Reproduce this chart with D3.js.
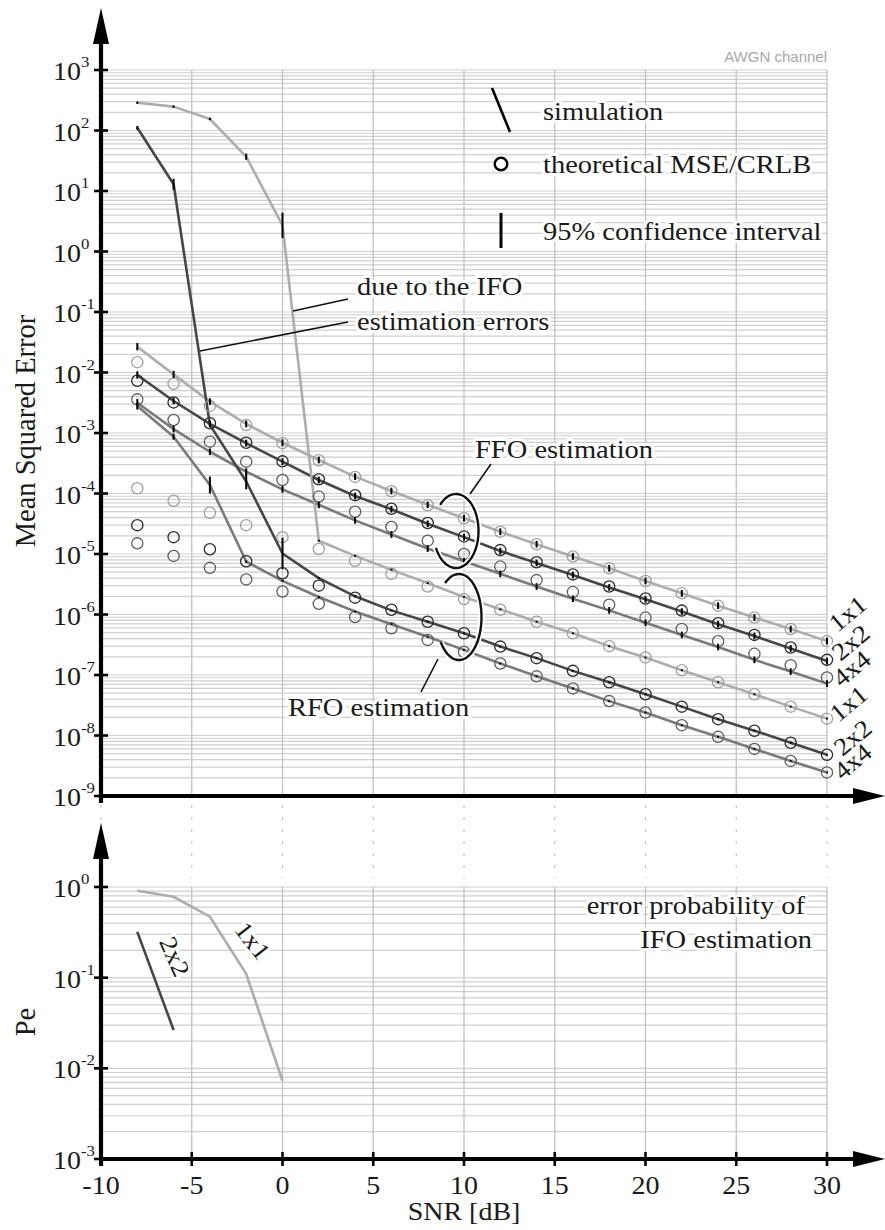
<!DOCTYPE html>
<meta charset="utf-8">
<head>
    <script type="text/javascript" src="https://cdn.jsdelivr.net/npm/d3@7/dist/d3.min.js"></script>
    <style>
        body { margin: 0; background: #fff; }
        text { font-family: "Liberation Serif", "Times New Roman", serif; fill: #1a1a1a; }
        .halo { paint-order: stroke; stroke: #fff; stroke-width: 6px; stroke-linejoin: round; }
    </style>
</head>
<body>
    <svg width=885 height=1230></svg>
</body>
<script>
    let snr = [-8, -6, -4, -2, 0, 2, 4, 6, 8, 10, 12, 14, 16, 18, 20, 22, 24, 26, 28, 30];

    // FFO estimation: simulation, theory, 95% CI half width (decades)
    let ffoSim1x1 = [2.67e-2, 9.3e-3, 3.3e-3, 1.41e-3, 6.9e-4, 3.58e-4, 1.9e-4, 1.1e-4, 6.5e-5, 3.9e-5, 2.34e-5, 1.45e-5, 9.1e-6, 5.8e-6, 3.58e-6, 2.24e-6, 1.4e-6, 8.9e-7, 5.75e-7, 3.63e-7];
    let ffoSim2x2 = [9.1e-3, 3.38e-3, 1.41e-3, 6.8e-4, 3.36e-4, 1.67e-4, 9.1e-5, 5.5e-5, 3.16e-5, 1.9e-5, 1.12e-5, 7.1e-6, 4.5e-6, 2.8e-6, 1.78e-6, 1.12e-6, 6.9e-7, 4.4e-7, 2.75e-7, 1.7e-7];
    let ffoSim4x4 = [3.17e-3, 1.16e-3, 4.9e-4, 2.3e-4, 1.17e-4, 6.5e-5, 3.6e-5, 2.1e-5, 1.23e-5, 7.6e-6, 4.7e-6, 2.9e-6, 1.82e-6, 1.17e-6, 7.3e-7, 4.6e-7, 2.9e-7, 1.78e-7, 1.14e-7, 7.2e-8];
    let ffoTheo1x1 = [1.48e-2, 6.5e-3, 2.8e-3, 1.35e-3, 6.8e-4, 3.55e-4, 1.88e-4, 1.09e-4, 6.4e-5, 3.9e-5, 2.34e-5, 1.45e-5, 9.1e-6, 5.8e-6, 3.58e-6, 2.24e-6, 1.4e-6, 8.9e-7, 5.75e-7, 3.63e-7];
    let ffoTheo2x2 = [7.3e-3, 3.2e-3, 1.45e-3, 6.9e-4, 3.4e-4, 1.72e-4, 9.4e-5, 5.6e-5, 3.25e-5, 1.95e-5, 1.16e-5, 7.3e-6, 4.6e-6, 2.9e-6, 1.84e-6, 1.16e-6, 7.2e-7, 4.6e-7, 2.85e-7, 1.78e-7];
    let ffoTheo4x4 = [3.6e-3, 1.64e-3, 7.2e-4, 3.36e-4, 1.67e-4, 8.9e-5, 5.0e-5, 2.8e-5, 1.66e-5, 1.0e-5, 6.2e-6, 3.7e-6, 2.35e-6, 1.45e-6, 8.9e-7, 5.75e-7, 3.63e-7, 2.24e-7, 1.45e-7, 9.1e-8];
    let ffoCi1x1 = [0.06, 0.06, 0.055, 0.055, 0.055, 0.055, 0.055, 0.055, 0.055, 0.055, 0.055, 0.055, 0.055, 0.055, 0.055, 0.055, 0.055, 0.055, 0.055, 0.055];
    let ffoCi2x2 = [0.06, 0.055, 0.055, 0.055, 0.055, 0.055, 0.055, 0.055, 0.055, 0.055, 0.055, 0.055, 0.055, 0.055, 0.055, 0.055, 0.055, 0.055, 0.055, 0.055];
    let ffoCi4x4 = [0.06, 0.055, 0.055, 0.055, 0.055, 0.055, 0.055, 0.055, 0.055, 0.055, 0.055, 0.055, 0.055, 0.055, 0.055, 0.055, 0.055, 0.055, 0.055, 0.055];

    // RFO estimation (low SNR dominated by IFO errors)
    let rfoSim1x1 = [288, 248, 155, 36.9, 2.7, 1.66e-5, 9.3e-6, 5.5e-6, 3.3e-6, 1.95e-6, 1.22e-6, 7.6e-7, 4.9e-7, 3.0e-7, 1.95e-7, 1.2e-7, 7.6e-8, 4.8e-8, 3.0e-8, 1.9e-8];
    let rfoSim2x2 = [111, 12.9, 1.36e-3, 1.58e-4, 1.02e-5, 4.0e-6, 2.0e-6, 1.17e-6, 7.6e-7, 4.9e-7, 2.95e-7, 1.9e-7, 1.17e-7, 7.6e-8, 4.8e-8, 3.0e-8, 1.86e-8, 1.2e-8, 7.6e-9, 4.8e-9];
    let rfoSim4x4 = [2.8e-3, 8.7e-4, 1.38e-4, 7.5e-6, 3.6e-6, 1.95e-6, 1.12e-6, 6.9e-7, 4.3e-7, 2.6e-7, 1.55e-7, 9.5e-8, 6.0e-8, 3.7e-8, 2.4e-8, 1.48e-8, 9.5e-9, 6.0e-9, 3.8e-9, 2.45e-9];
    let rfoTheo1x1 = [1.22e-4, 7.6e-5, 4.8e-5, 3.0e-5, 1.9e-5, 1.21e-5, 7.7e-6, 4.7e-6, 2.9e-6, 1.8e-6, 1.2e-6, 7.6e-7, 4.9e-7, 3.0e-7, 1.95e-7, 1.2e-7, 7.6e-8, 4.8e-8, 3.0e-8, 1.9e-8];
    let rfoTheo2x2 = [3.0e-5, 1.9e-5, 1.2e-5, 7.6e-6, 4.8e-6, 3.0e-6, 1.9e-6, 1.2e-6, 7.6e-7, 4.9e-7, 2.95e-7, 1.9e-7, 1.17e-7, 7.6e-8, 4.8e-8, 3.0e-8, 1.86e-8, 1.2e-8, 7.6e-9, 4.8e-9];
    let rfoTheo4x4 = [1.5e-5, 9.3e-6, 5.9e-6, 3.8e-6, 2.4e-6, 1.5e-6, 9.1e-7, 5.9e-7, 3.8e-7, 2.4e-7, 1.55e-7, 9.5e-8, 6.0e-8, 3.7e-8, 2.4e-8, 1.48e-8, 9.5e-9, 6.0e-9, 3.8e-9, 2.45e-9];
    let rfoCi1x1 = [0.02, 0.02, 0.02, 0.05, 0.21, 0.015, 0.015, 0.015, 0.015, 0.015, 0.015, 0.015, 0.015, 0.015, 0.015, 0.015, 0.015, 0.015, 0.015, 0.015];
    let rfoCi2x2 = [0.03, 0.09, 0.03, 0.13, 0.26, 0.015, 0.015, 0.015, 0.015, 0.015, 0.015, 0.015, 0.015, 0.015, 0.015, 0.015, 0.015, 0.015, 0.015, 0.015];
    let rfoCi4x4 = [0.06, 0.05, 0.14, 0.02, 0.015, 0.015, 0.015, 0.015, 0.015, 0.015, 0.015, 0.015, 0.015, 0.015, 0.015, 0.015, 0.015, 0.015, 0.015, 0.015];

    // error probability of IFO estimation
    let peSnr1x1 = [-8, -6, -4, -2, 0];
    let pe1x1 = [0.91, 0.78, 0.47, 0.11, 0.0073];
    let peSnr2x2 = [-8, -6];
    let pe2x2 = [0.32, 0.0265];

    let xTicks = [-10, -5, 0, 5, 10, 15, 20, 25, 30];
    let mseExps = [-9, -8, -7, -6, -5, -4, -3, -2, -1, 0, 1, 2, 3];
    let peExps = [-3, -2, -1, 0];

    let lineColor = { "1x1": "#adadad", "2x2": "#464646", "4x4": "#7a7a7a" };
    let circleColor = { "1x1": "#a0a0a0", "2x2": "#2a2a2a", "4x4": "#5e5e5e" };

    let x = d3.scaleLinear().domain([-10, 30]).range([101, 827]);
    let yTop = d3.scaleLog().domain([1e-9, 1e3]).range([796, 70]);
    let yBot = d3.scaleLog().domain([1e-3, 1]).range([1159, 887]);

    let svg = d3.select("svg");

    let series = [
        { cfg: "1x1", sim: ffoSim1x1, theo: ffoTheo1x1, ci: ffoCi1x1 },
        { cfg: "2x2", sim: ffoSim2x2, theo: ffoTheo2x2, ci: ffoCi2x2 },
        { cfg: "4x4", sim: ffoSim4x4, theo: ffoTheo4x4, ci: ffoCi4x4 },
        { cfg: "1x1", sim: rfoSim1x1, theo: rfoTheo1x1, ci: rfoCi1x1 },
        { cfg: "2x2", sim: rfoSim2x2, theo: rfoTheo2x2, ci: rfoCi2x2 },
        { cfg: "4x4", sim: rfoSim4x4, theo: rfoTheo4x4, ci: rfoCi4x4 }
    ];

    // text helper: serif text is slightly wide in the original
    function label(g, px, py, str, opt) {
        opt = opt || {};
        let t = g.append("text")
            .attr("transform", `translate(${px},${py}) rotate(${opt.rot || 0}) scale(${opt.sx || 1.14},1)`)
            .attr("font-size", opt.size || 25)
            .attr("text-anchor", opt.anchor || "start")
            .text(str);
        if (opt.halo !== false) t.attr("class", "halo");
        return t;
    }

    // ---- grids (all 1..9 per decade)
    let grid = svg.append("g");
    function hGrid(scale, y0, y1) {
        let vals = scale.ticks(30).filter(v => v >= scale.domain()[0] * 0.999 && v <= scale.domain()[1] * 1.001);
        grid.selectAll(null).data(vals).enter().append("line")
            .attr("x1", x(-10)).attr("x2", x(30))
            .attr("y1", d => scale(d)).attr("y2", d => scale(d))
            .attr("stroke", "#cfcfcf").attr("stroke-width", 1.2);
        grid.selectAll(null).data(xTicks.slice(1)).enter().append("line")
            .attr("x1", d => x(d)).attr("x2", d => x(d))
            .attr("y1", y0).attr("y2", y1)
            .attr("stroke", "#c2c2c2").attr("stroke-width", 1.3);
    }
    hGrid(yTop, yTop(1e3), yTop(1e-9));
    hGrid(yBot, yBot(1), yBot(1e-3));

    // dashed guides between the panels
    grid.selectAll(null).data(xTicks).enter().append("line")
        .attr("x1", d => x(d)).attr("x2", d => x(d))
        .attr("y1", 805).attr("y2", 878)
        .attr("stroke", "#bcbcbc").attr("stroke-width", 1)
        .attr("stroke-dasharray", "3,9");

    // ---- top panel data
    let line = d3.line().x(d => x(d[0])).y(d => yTop(d[1]));
    let data = svg.append("g");
    series.forEach(s => {
        data.append("path")
            .datum(snr.map((v, i) => [v, s.sim[i]]))
            .attr("d", line)
            .attr("fill", "none")
            .attr("stroke", lineColor[s.cfg])
            .attr("stroke-width", 2.6)
            .attr("stroke-linejoin", "round");
    });
    series.forEach(s => {
        data.selectAll(null).data(snr.map((v, i) => [v, s.theo[i]])).enter().append("circle")
            .attr("cx", d => x(d[0])).attr("cy", d => yTop(d[1]))
            .attr("r", 5.6)
            .attr("fill", "none")
            .attr("stroke", circleColor[s.cfg])
            .attr("stroke-width", 1.3);
    });
    series.forEach(s => {
        data.selectAll(null).data(snr.map((v, i) => [v, s.sim[i], s.ci[i]])).enter().append("line")
            .attr("x1", d => x(d[0])).attr("x2", d => x(d[0]))
            .attr("y1", d => yTop(d[1] * Math.pow(10, d[2])))
            .attr("y2", d => yTop(d[1] / Math.pow(10, d[2])))
            .attr("stroke", "#000").attr("stroke-width", 2);
    });

    // ---- annotations top panel
    let ann = svg.append("g");
    function loop(cx, cy, rx, ry, a0, a1) {
        let pts = d3.range(a0, a1 + 0.5, 4).map(a => [cx + rx * Math.cos(a * Math.PI / 180), cy + ry * Math.sin(a * Math.PI / 180)]);
        let p = d3.line().curve(d3.curveCardinal)(pts);
        ann.append("path").attr("d", p).attr("fill", "none").attr("stroke", "#fff").attr("stroke-width", 6);
        ann.append("path").attr("d", p).attr("fill", "none").attr("stroke", "#111").attr("stroke-width", 2.4);
    }
    function leader(x1, y1, x2, y2) {
        ann.append("line").attr("x1", x1).attr("y1", y1).attr("x2", x2).attr("y2", y2)
            .attr("stroke", "#111").attr("stroke-width", 1.6);
    }
    loop(x(10) - 8, 531, 22.5, 37, 225, 515);
    loop(x(10) - 5, 617, 22.5, 43, 232, 506);
    leader(470, 494, 491, 464);
    leader(438, 659, 421, 692);
    leader(348, 299, 293, 311);
    leader(348, 322, 200, 351);

    label(ann, 475, 458, "FFO estimation");
    label(ann, 288, 716, "RFO estimation");
    label(ann, 357, 295, "due to the IFO");
    label(ann, 357, 330, "estimation errors");

    // right-hand MIMO labels
    let endLabels = [[853, 620, "1x1"], [856, 649, "2x2"], [857, 675, "4x4"], [854, 710, "1x1"], [858, 744, "2x2"], [858, 768, "4x4"]];
    endLabels.forEach(d => label(ann, d[0], d[1], d[2], { rot: -40, anchor: "middle", sx: 1.08 }));

    // legend
    let leg = svg.append("g");
    leg.append("line").attr("x1", 492).attr("y1", 88).attr("x2", 510).attr("y2", 132)
        .attr("stroke", "#000").attr("stroke-width", 2.6);
    leg.append("circle").attr("cx", 501).attr("cy", 164).attr("r", 6.3)
        .attr("fill", "#fff").attr("stroke", "#000").attr("stroke-width", 2.4);
    leg.append("line").attr("x1", 501).attr("y1", 213).attr("x2", 501).attr("y2", 248)
        .attr("stroke", "#000").attr("stroke-width", 3);
    label(leg, 543, 120, "simulation");
    label(leg, 543, 173, "theoretical MSE/CRLB");
    label(leg, 543, 240, "95% confidence interval");

    svg.append("text")
        .attr("x", 827).attr("y", 62)
        .attr("text-anchor", "end")
        .attr("font-size", 15)
        .style("font-family", "'Liberation Sans', Arial, sans-serif")
        .style("fill", "#a8a8a8")
        .text("AWGN channel");

    // ---- bottom panel
    let peLine = d3.line().x(d => x(d[0])).y(d => yBot(d[1]));
    svg.append("path")
        .datum(peSnr1x1.map((v, i) => [v, pe1x1[i]]))
        .attr("d", peLine).attr("fill", "none")
        .attr("stroke", lineColor["1x1"]).attr("stroke-width", 2.6);
    svg.append("path")
        .datum(peSnr2x2.map((v, i) => [v, pe2x2[i]]))
        .attr("d", peLine).attr("fill", "none")
        .attr("stroke", lineColor["2x2"]).attr("stroke-width", 2.6);
    label(svg, 246, 946, "1x1", { rot: 52, anchor: "middle", sx: 1.08 });
    label(svg, 167, 960, "2x2", { rot: 66, anchor: "middle", sx: 1.08 });
    label(svg, 805, 914, "error probability of", { anchor: "end" });
    label(svg, 812, 948, "IFO estimation", { anchor: "end" });

    // ---- axes
    let axes = svg.append("g");
    function arrowUp(cx, tip) {
        axes.append("path").attr("d", `M${cx},${tip} L${cx - 8},${tip + 36} L${cx + 8},${tip + 36} Z`).attr("fill", "#000");
    }
    function arrowRight(cy) {
        axes.append("path").attr("d", `M885,${cy} L853,${cy - 8} L853,${cy + 8} Z`).attr("fill", "#000");
    }
    // top panel
    axes.append("line").attr("x1", x(-10)).attr("x2", x(-10)).attr("y1", 803).attr("y2", 40).attr("stroke", "#000").attr("stroke-width", 4.2);
    axes.append("line").attr("x1", x(-10) - 2).attr("x2", 860).attr("y1", yTop(1e-9)).attr("y2", yTop(1e-9)).attr("stroke", "#000").attr("stroke-width", 4);
    arrowUp(x(-10), 8);
    arrowRight(yTop(1e-9));
    // bottom panel
    axes.append("line").attr("x1", x(-10)).attr("x2", x(-10)).attr("y1", 1166).attr("y2", 855).attr("stroke", "#000").attr("stroke-width", 4.2);
    axes.append("line").attr("x1", x(-10) - 2).attr("x2", 860).attr("y1", yBot(1e-3)).attr("y2", yBot(1e-3)).attr("stroke", "#000").attr("stroke-width", 4);
    arrowUp(x(-10), 823);
    arrowRight(yBot(1e-3));

    function yTicks(scale, exps) {
        exps.forEach(e => {
            let yy = scale(Math.pow(10, e));
            axes.append("line").attr("x1", 94).attr("x2", 108).attr("y1", yy).attr("y2", yy)
                .attr("stroke", "#000").attr("stroke-width", 2.6);
            let t = axes.append("text")
                .attr("transform", `translate(53,${yy + 10}) scale(1.12,1)`)
                .attr("font-size", 25);
            t.append("tspan").text("10");
            t.append("tspan").attr("font-size", 15).attr("dy", -13).text(e);
        });
    }
    yTicks(yTop, mseExps);
    yTicks(yBot, peExps);

    xTicks.forEach(v => {
        axes.append("line").attr("x1", x(v)).attr("x2", x(v)).attr("y1", 1152).attr("y2", 1166)
            .attr("stroke", "#000").attr("stroke-width", 2.6);
        axes.append("text")
            .attr("transform", `translate(${x(v)},1194) scale(1.12,1)`)
            .attr("font-size", 25).attr("text-anchor", "middle")
            .text(v);
    });

    svg.append("text")
        .attr("transform", "translate(464,1220) scale(1.12,1)")
        .attr("font-size", 25).attr("text-anchor", "middle")
        .text("SNR [dB]");
    svg.append("text")
        .attr("transform", "translate(35,431) rotate(-90)")
        .attr("font-size", 28.5).attr("text-anchor", "middle")
        .text("Mean Squared Error");
    svg.append("text")
        .attr("transform", "translate(35,1022) rotate(-90)")
        .attr("font-size", 28.5).attr("text-anchor", "middle")
        .text("Pe");
</script>
